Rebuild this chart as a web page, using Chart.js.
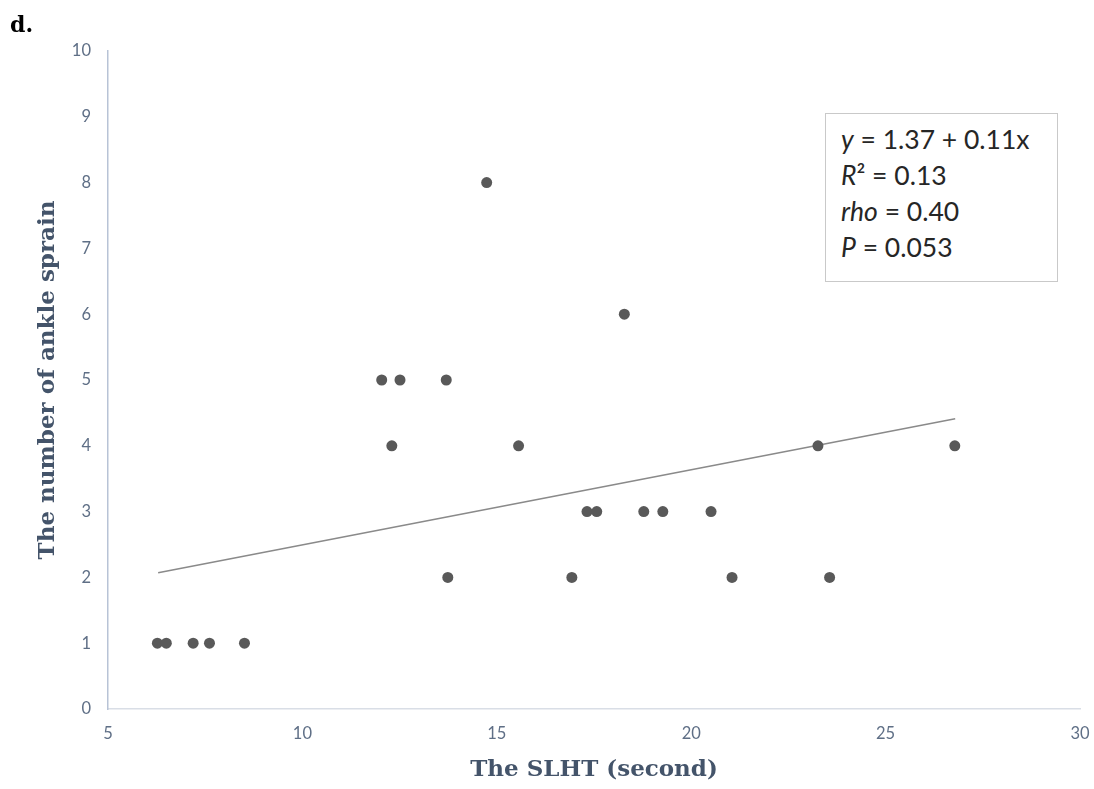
<!DOCTYPE html>
<html>
<head>
<meta charset="utf-8">
<script src="https://cdn.jsdelivr.net/npm/chart.js@4.4.1/dist/chart.umd.min.js"></script>
<style>
  html, body { margin: 0; padding: 0; background: #ffffff; }
  #wrap { position: relative; width: 1094px; height: 789px; overflow: hidden; }
  #chart { position: absolute; left: 0; top: 0; }
  #panel { position: absolute; left: 10px; top: 13px; font-family: "DejaVu Serif", serif; font-weight: bold; font-size: 22px; line-height: 22px; color: #000; }
  #stats { position: absolute; left: 825px; top: 113px; width: 233px; height: 169px; box-sizing: border-box;
           border: 1px solid #c9c9c9; padding: 7px 0 0 15px; font-family: Lato, "Open Sans", sans-serif;
           font-size: 26.5px; line-height: 36px; color: #262626; background: #fff; }
  #stats i { font-style: italic; }
</style>
</head>
<body>
<div id="wrap">
  <canvas id="chart" width="1094" height="789"></canvas>
  <div id="panel">d.</div>
  <div id="stats">
    <div><i>y</i> = 1.37 + 0.11x</div>
    <div><i>R</i>² = 0.13</div>
    <div><i>rho</i> = 0.40</div>
    <div><i>P</i> = 0.053</div>
  </div>
</div>
<script>
// Data
const slht    = [6.27, 6.50, 7.19, 7.61, 8.51, 12.04, 12.30, 12.51, 13.70, 13.74, 14.74, 15.56, 16.93, 17.32, 17.57, 18.28, 18.78, 19.27, 20.51, 21.05, 23.26, 23.56, 26.78];
const sprains = [1, 1, 1, 1, 1, 5, 4, 5, 5, 2, 8, 4, 2, 3, 3, 6, 3, 3, 3, 2, 4, 2, 4];
const trendX  = [6.29, 26.79];
const trendY  = [2.07, 4.41];
const xTicks  = [5, 10, 15, 20, 25, 30];
const yTicks  = [0, 1, 2, 3, 4, 5, 6, 7, 8, 9, 10];

const points = slht.map((x, i) => ({ x: x, y: sprains[i] }));
const trend = trendX.map((x, i) => ({ x: x, y: trendY[i] }));

const tickFont = { family: 'Lato', size: 16.5 };
const titleFont = { family: 'DejaVu Serif', size: 23, weight: 'bold', lineHeight: 1.2 };

new Chart(document.getElementById('chart'), {
  type: 'scatter',
  data: {
    datasets: [
      {
        label: 'Trend',
        data: trend,
        showLine: true,
        borderColor: '#8a8a8a',
        borderWidth: 1.5,
        pointRadius: 0,
        fill: false,
        order: 2
      },
      {
        label: 'Ankle sprain',
        data: points,
        backgroundColor: '#595959',
        borderWidth: 0,
        pointRadius: 5.5,
        order: 1
      }
    ]
  },
  options: {
    responsive: false,
    animation: false,
    devicePixelRatio: 1,
    layout: { padding: { top: 51, right: 14, left: 0, bottom: 0 } },
    plugins: { legend: { display: false }, tooltip: { enabled: false } },
    scales: {
      x: {
        type: 'linear',
        min: 5, max: 30,
        afterBuildTicks: (s) => { s.ticks = xTicks.map(v => ({ value: v })); },
        afterFit: (s) => { s.height = 80; s.paddingRight = 0; s.paddingLeft = 0; },
        grid: { display: false, drawTicks: false },
        border: { display: true, color: '#d9dee6', width: 1.5 },
        ticks: { font: tickFont, color: '#5f6f86', padding: 15 },
        title: { display: true, text: 'The SLHT (second)', font: titleFont, color: '#44546a', padding: { top: 0, bottom: 5 } }
      },
      y: {
        type: 'linear',
        min: 0, max: 10,
        afterBuildTicks: (s) => { s.ticks = yTicks.map(v => ({ value: v })); },
        afterFit: (s) => { s.width = 108; s.paddingTop = 0; s.paddingBottom = 0; },
        grid: { display: false, drawTicks: false },
        border: { display: true, color: '#b8c3d6', width: 1.5 },
        ticks: { font: tickFont, color: '#5f6f86', padding: 17 },
        title: { display: true, text: 'The number of ankle sprain', font: titleFont, color: '#44546a', padding: { top: 34, bottom: 0 } }
      }
    }
  }
});
</script>
</body>
</html>
